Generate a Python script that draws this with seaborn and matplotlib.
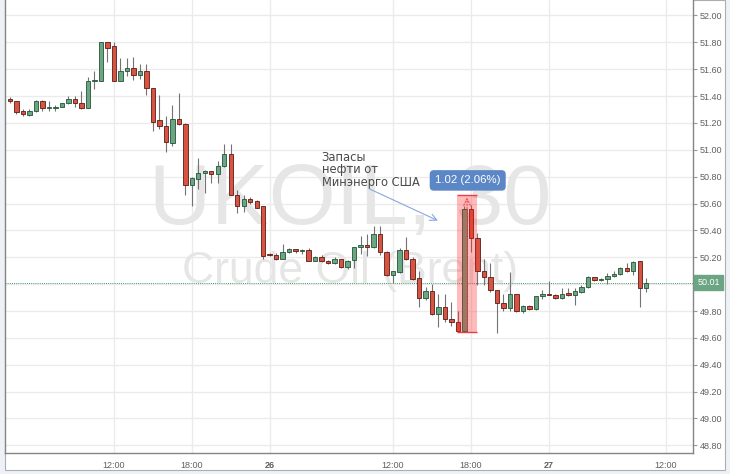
import matplotlib
matplotlib.use('Agg')
import matplotlib.pyplot as plt
import numpy as np
import pandas as pd
import seaborn as sns
from matplotlib.patches import Rectangle

# 30 minute bars, UKOIL (Brent)
opens = [51.38, 51.36, 51.29, 51.26, 51.29, 51.36, 51.31, 51.31, 51.32, 51.35,
         51.38, 51.35, 51.31, 51.51, 51.51, 51.80, 51.77, 51.51, 51.59, 51.61,
         51.56, 51.59, 51.46, 51.22, 51.18, 51.05, 51.23, 51.19, 50.74, 50.78,
         50.83, 50.84, 50.82, 50.88, 50.97, 50.665, 50.58, 50.63, 50.62, 50.58,
         50.225, 50.22, 50.19, 50.24, 50.26, 50.245, 50.255, 50.175, 50.20, 50.175,
         50.155, 50.19, 50.13, 50.18, 50.275, 50.29, 50.28, 50.37, 50.24, 50.07,
         50.09, 50.255, 50.185, 50.045, 49.895, 49.95, 49.78, 49.83, 49.74, 49.715,
         49.65, 50.56, 50.34, 50.10, 50.055, 49.96, 49.86, 49.82, 49.925, 49.80,
         49.84, 49.815, 49.91, 49.93, 49.92, 49.895, 49.935, 49.92, 49.945, 49.98,
         50.05, 50.03, 50.04, 50.06, 50.075, 50.12, 50.095, 50.17, 49.97]
highs = [51.39, 51.36, 51.30, 51.30, 51.37, 51.37, 51.36, 51.33, 51.35, 51.40,
         51.40, 51.44, 51.54, 51.59, 51.80, 51.805, 51.80, 51.68, 51.68, 51.69,
         51.64, 51.64, 51.46, 51.41, 51.25, 51.33, 51.42, 51.20, 50.80, 50.94,
         50.85, 50.845, 50.92, 51.04, 51.04, 50.70, 50.665, 50.65, 50.625, 50.58,
         50.23, 50.23, 50.30, 50.27, 50.265, 50.26, 50.27, 50.21, 50.215, 50.18,
         50.20, 50.19, 50.18, 50.28, 50.36, 50.37, 50.43, 50.43, 50.245, 50.10,
         50.27, 50.35, 50.20, 50.10, 49.98, 50.00, 49.93, 49.93, 49.87, 49.80,
         50.585, 50.59, 50.38, 50.19, 50.156, 49.96, 49.93, 50.09, 49.93, 49.845,
         49.845, 49.91, 49.957, 50.02, 49.93, 49.97, 49.97, 49.97, 49.99, 50.06,
         50.055, 50.045, 50.086, 50.10, 50.125, 50.16, 50.17, 50.17, 50.045]
lows = [51.35, 51.27, 51.25, 51.25, 51.28, 51.29, 51.29, 51.29, 51.32, 51.34,
        51.32, 51.30, 51.31, 51.45, 51.51, 51.65, 51.51, 51.51, 51.55, 51.52,
        51.53, 51.41, 51.14, 51.155, 50.98, 51.03, 51.185, 50.66, 50.585, 50.71,
        50.68, 50.75, 50.75, 50.87, 50.66, 50.53, 50.54, 50.60, 50.57, 50.19,
        50.21, 50.18, 50.19, 50.23, 50.23, 50.225, 50.17, 50.17, 50.165, 50.15,
        50.15, 50.12, 50.11, 50.12, 50.225, 50.21, 50.27, 50.22, 50.06, 50.01,
        50.08, 50.18, 50.03, 49.83, 49.88, 49.77, 49.68, 49.72, 49.69, 49.645,
        49.645, 50.24, 49.995, 49.995, 49.945, 49.635, 49.80, 49.80, 49.79, 49.785,
        49.81, 49.81, 49.89, 49.92, 49.89, 49.89, 49.91, 49.846, 49.935, 49.97,
        50.02, 50.02, 50.00, 50.05, 50.07, 50.09, 50.07, 49.83, 49.945]
closes = [51.36, 51.28, 51.27, 51.29, 51.36, 51.31, 51.32, 51.32, 51.35, 51.38,
          51.35, 51.31, 51.51, 51.52, 51.80, 51.76, 51.51, 51.59, 51.61, 51.56,
          51.59, 51.46, 51.21, 51.18, 51.06, 51.23, 51.19, 50.74, 50.79, 50.83,
          50.84, 50.82, 50.88, 50.97, 50.665, 50.58, 50.63, 50.61, 50.57, 50.21,
          50.215, 50.19, 50.24, 50.26, 50.25, 50.255, 50.175, 50.20, 50.175, 50.155,
          50.19, 50.13, 50.175, 50.275, 50.29, 50.28, 50.37, 50.24, 50.07, 50.095,
          50.255, 50.185, 50.04, 49.895, 49.95, 49.78, 49.83, 49.74, 49.715, 49.65,
          50.56, 50.34, 50.10, 50.055, 49.96, 49.86, 49.82, 49.925, 49.80, 49.84,
          49.815, 49.91, 49.925, 49.92, 49.895, 49.93, 49.92, 49.95, 49.98, 50.05,
          50.03, 50.04, 50.06, 50.075, 50.12, 50.095, 50.165, 49.97, 50.01]

time_tick_bars = [16, 28, 40, 59, 71, 83, 101]
time_tick_labels = ['12:00', '18:00', '26', '12:00', '18:00', '27', '12:00']
price_ticks = [48.80, 49.00, 49.20, 49.40, 49.60, 49.80, 50.00, 50.20, 50.40,
               50.60, 50.80, 51.00, 51.20, 51.40, 51.60, 51.80, 52.00]
last_price = 50.01

# price range drawing
range_low = 49.645
range_high = 50.665
range_bars = (68.9, 71.9)
range_label = '1.02 (2.06%)'
note_text = 'Запасы\nнефти от\nМинэнерго США'

UP_FILL, UP_EDGE = '#6ba583', '#225437'
DOWN_FILL, DOWN_EDGE = '#d75442', '#5b1a13'
WICK = '#737375'

df = pd.DataFrame({'open': opens, 'high': highs, 'low': lows, 'close': closes})
df['bar'] = np.arange(len(df))
df['up'] = df.close >= df.open
df['body_low'] = df[['open', 'close']].min(axis=1)
df['body_h'] = (df.close - df.open).abs().clip(lower=0.006)

sns.set_theme(style='white')
plt.rcParams['font.family'] = ['Liberation Sans', 'DejaVu Sans']

fig = plt.figure(figsize=(7.3, 4.74), dpi=100)
fig.patch.set_facecolor('#eef2f6')
fig.add_artist(Rectangle((5 / 730, 4 / 474), 720 / 730, 470 / 474, transform=fig.transFigure,
                         facecolor='white', edgecolor='#a9afb5', lw=0.8, zorder=0))

ax = fig.add_axes([5 / 730, 21 / 474, 688 / 730, 453 / 474])
ax.set_facecolor('white')
ax.set_xlim(-0.77, 105.2)
ax.set_ylim(48.743, 52.115)

# watermark
ax.text(0.5015, 0.555, 'UKOIL, 30', transform=ax.transAxes, ha='center', va='center',
        fontsize=62, color='#e6e6e6', zorder=1)
ax.text(0.5015, 0.40, 'Crude Oil (Brent)', transform=ax.transAxes, ha='center', va='center',
        fontsize=32, color='#e6e6e6', zorder=1)

# candles
ax.vlines(df.bar, df.low, df.high, color=WICK, lw=0.8, zorder=3)
up = df[df.up]
down = df[~df.up]
ax.bar(up.bar, up.body_h, bottom=up.body_low, width=0.68, color=UP_FILL,
       edgecolor=UP_EDGE, lw=0.6, zorder=4)
ax.bar(down.bar, down.body_h, bottom=down.body_low, width=0.68, color=DOWN_FILL,
       edgecolor=DOWN_EDGE, lw=0.6, zorder=4)

# last price line
ax.axhline(last_price, color='#3f9a62', lw=0.7, ls=(0, (1, 1.2)), zorder=2)
ax.annotate(f'{last_price:.2f}', xy=(1.0, last_price), xycoords=('axes fraction', 'data'),
            xytext=(3, 0), textcoords='offset points', ha='left', va='center',
            fontsize=6.5, color='white', zorder=10, annotation_clip=False,
            bbox=dict(boxstyle='square,pad=0.35', fc=UP_FILL, ec=UP_FILL))

# range tool
ax.add_patch(Rectangle((range_bars[0], range_low), range_bars[1] - range_bars[0],
                       range_high - range_low, facecolor='#ff2020', alpha=0.3,
                       edgecolor='none', zorder=5))
ax.hlines([range_low, range_high], range_bars[0], range_bars[1], color='#f03c3c', lw=1, zorder=6)
mid = (range_bars[0] + range_bars[1]) / 2
ax.annotate('', xy=(mid, range_high), xytext=(mid, range_low),
            arrowprops=dict(arrowstyle='->', color='#f05050', lw=0.8, ls=(0, (1.5, 1.5))),
            zorder=6)
ax.text(70.5, 50.772, range_label, ha='center', va='center', fontsize=8.2, color='white',
        zorder=7, bbox=dict(boxstyle='round,pad=0.4,rounding_size=0.3', fc='#5c87c6', ec='#5c87c6'))

# note with arrow
ax.text(48.0, 50.994, note_text, ha='left', va='top', fontsize=8.3, color='#4a4a4a',
        linespacing=0.95, family=['DejaVu Sans'], zorder=7)
ax.annotate('', xy=(66.3, 50.464), xytext=(55.0, 50.717),
            arrowprops=dict(arrowstyle='->', color='#8aa6e0', lw=0.8), zorder=7)

# axes
ax.set_yticks(price_ticks)
# the 50.00 label sits under the last price badge
ax.set_yticklabels(['' if abs(p - last_price) < 0.05 else f'{p:.2f}' for p in price_ticks])
ax.yaxis.tick_right()
ax.set_xticks(time_tick_bars)
ax.set_xticklabels(time_tick_labels)
for lbl in ax.get_xticklabels():
    if lbl.get_text() in ('26', '27'):
        lbl.set_fontweight('bold')
ax.grid(True, color='#ebebeb', lw=1)
ax.set_axisbelow(True)
ax.tick_params(axis='y', right=True, length=3, width=0.8, color='#999999', labelsize=6.5,
               labelcolor='#606060', pad=2)
ax.tick_params(axis='x', length=0, labelsize=6.5, labelcolor='#606060', pad=6)

sns.despine(ax=ax, top=True, right=False, left=False, bottom=False)
for side in ('left', 'bottom', 'right'):
    ax.spines[side].set_color('#858585')
    ax.spines[side].set_linewidth(1)

fig.savefig('out.png', dpi=100)
